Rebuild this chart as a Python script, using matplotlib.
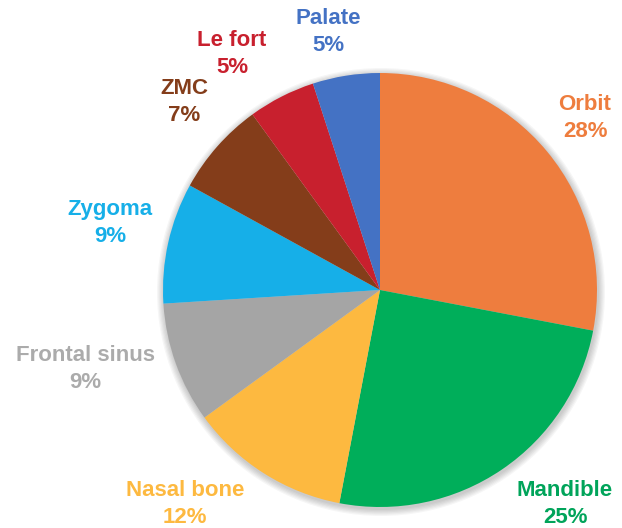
import matplotlib.pyplot as plt
from matplotlib.patches import Circle

plt.rcParams['font.family'] = ['Liberation Sans', 'DejaVu Sans']

# ----------- Data -----------
categories = ["Orbit", "Mandible", "Nasal bone", "Frontal sinus",
              "Zygoma", "ZMC", "Le fort", "Palate"]
percents = [28, 25, 12, 9, 9, 7, 5, 5]

slice_colors = ["#EE7D3E", "#00AE5A", "#FDB940", "#A5A5A5",
                "#16AFE8", "#843D1A", "#C8202E", "#4472C4"]
label_colors = ["#EE7D3E", "#00A45A", "#FDB940", "#ABABAB",
                "#16AFE8", "#843D1A", "#C8202E", "#4472C4"]

# label centres in pixel coords (x, y from top)
label_pos = [(585, 118), (565, 504), (185, 504), (85, 369),
             (110, 223), (184, 102), (232, 54), (328, 32)]

W, H = 622, 528
cx, cy, r = 380, H - 290, 217

fig = plt.figure(figsize=(W / 100, H / 100), dpi=100)
ax = fig.add_axes([0, 0, 1, 1])

# soft shadow
for i in range(6):
    ax.add_patch(Circle((cx + 1, cy - 2), r + 1 + i * 1.2, color="black",
                        alpha=0.035, lw=0, zorder=0))

ax.pie(percents, colors=slice_colors, startangle=90, counterclock=False,
       center=(cx, cy), radius=r, wedgeprops=dict(linewidth=0), frame=True)
ax.set_xlim(0, W)
ax.set_ylim(0, H)
ax.set_aspect('equal')
ax.axis('off')

for name, pct, col, (x, y) in zip(categories, percents, label_colors, label_pos):
    ax.text(x, H - y, f"{name}\n{pct}%", color=col, fontsize=16,
            fontweight='bold', ha='center', va='center', linespacing=1.32)

fig.savefig("out.png", dpi=100)
